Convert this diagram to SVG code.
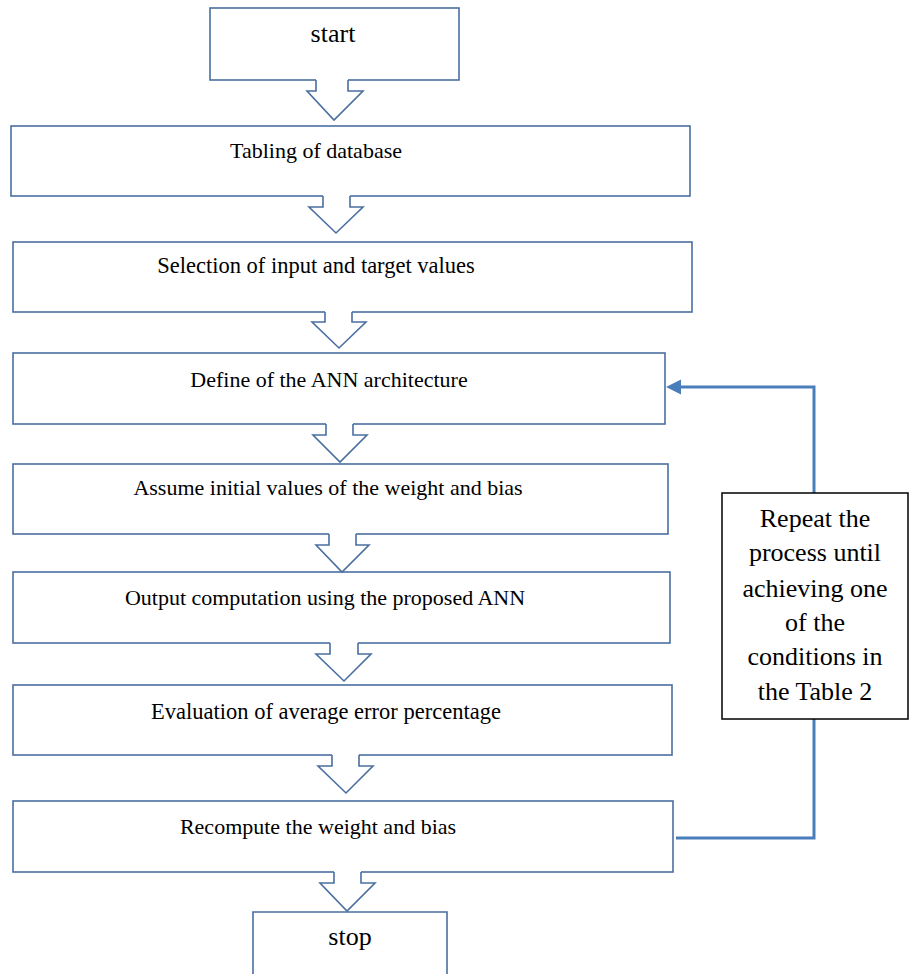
<svg xmlns="http://www.w3.org/2000/svg" width="909" height="974" viewBox="0 0 909 974">
<style>
.box{fill:#fff;stroke:#4a6fa0;stroke-width:1.6}
.note{fill:#fff;stroke:#000;stroke-width:1.5}
text{font-family:'Liberation Serif','Times New Roman',Times,serif;font-size:22px;fill:#000;text-anchor:middle}
text.big{font-size:26px}
.afill{fill:#fff;stroke:none}
.aline{fill:none;stroke:#4a6fa0;stroke-width:1.6;stroke-linejoin:miter}
.loop{fill:none;stroke:#4a7ebb;stroke-width:3}
</style>
<g id="start"><rect class="box" x="210" y="8" width="249" height="72"/><text class="big" x="333" y="42">start</text></g>
<g id="tabling"><rect class="box" x="11" y="126" width="679" height="70"/><text x="316" y="158">Tabling of database</text></g>
<g id="selection"><rect class="box" x="13" y="242" width="679" height="70"/><text x="316" y="273" style="font-size:22.5px">Selection of input and target values</text></g>
<g id="define"><rect class="box" x="13" y="353" width="652" height="71"/><text x="329" y="387">Define of the ANN architecture</text></g>
<g id="assume"><rect class="box" x="13" y="464" width="655" height="70"/><text x="328" y="495">Assume initial values of the weight and bias</text></g>
<g id="output"><rect class="box" x="13" y="572" width="657" height="71"/><text x="325" y="605">Output computation using the proposed ANN</text></g>
<g id="evaluation"><rect class="box" x="13" y="685" width="659" height="70"/><text x="326" y="719" style="font-size:22.5px">Evaluation of average error percentage</text></g>
<g id="recompute"><rect class="box" x="13" y="801" width="660" height="71"/><text x="318" y="834">Recompute the weight and bias</text></g>
<g id="stop"><path class="box" d="M253 976 L253 912 L447 912 L447 976"/><text class="big" x="350" y="945">stop</text></g>
<g id="connectors">
<path class="afill" d="M316 78 L316 91 L307 91 L334 120 L363 91 L348 91 L348 78 Z"/>
<path class="aline" d="M316 80 L316 91 L307 91 L334 120 L363 91 L348 91 L348 80"/>
<path class="afill" d="M323 194 L323 207 L309 207 L336 233 L363 207 L350 207 L350 194 Z"/>
<path class="aline" d="M323 196 L323 207 L309 207 L336 233 L363 207 L350 207 L350 196"/>
<path class="afill" d="M325 310 L325 322 L312 322 L339 348 L366 322 L352 322 L352 310 Z"/>
<path class="aline" d="M325 312 L325 322 L312 322 L339 348 L366 322 L352 322 L352 312"/>
<path class="afill" d="M326 422 L326 435 L313 435 L340 462 L367 435 L353 435 L353 422 Z"/>
<path class="aline" d="M326 424 L326 435 L313 435 L340 462 L367 435 L353 435 L353 424"/>
<path class="afill" d="M329 532 L329 545 L316 545 L342 572 L369 545 L356 545 L356 532 Z"/>
<path class="aline" d="M329 534 L329 545 L316 545 L342 572 L369 545 L356 545 L356 534"/>
<path class="afill" d="M330 641 L330 654 L316 654 L344 681 L371 654 L358 654 L358 641 Z"/>
<path class="aline" d="M330 643 L330 654 L316 654 L344 681 L371 654 L358 654 L358 643"/>
<path class="afill" d="M332 753 L332 766 L318 766 L346 793 L373 766 L359 766 L359 753 Z"/>
<path class="aline" d="M332 755 L332 766 L318 766 L346 793 L373 766 L359 766 L359 755"/>
<path class="afill" d="M334 870 L334 883 L320 883 L347 911 L375 883 L361 883 L361 870 Z"/>
<path class="aline" d="M334 872 L334 883 L320 883 L347 911 L375 883 L361 883 L361 872"/>
<path class="loop" d="M676 838 L814 838 L814 387 L680 387"/>
<path d="M666 387 L681 379.5 L681 394.5 Z" fill="#4a7ebb"/>
</g>
<g id="note"><rect class="note" x="722" y="493" width="186" height="226"/>
<text class="big" x="815" y="527">Repeat the</text>
<text class="big" x="815" y="561">process until</text>
<text class="big" x="815" y="597">achieving one</text>
<text class="big" x="815" y="631">of the</text>
<text class="big" x="815" y="665">conditions in</text>
<text class="big" x="815" y="700">the Table 2</text>
</g>
</svg>
